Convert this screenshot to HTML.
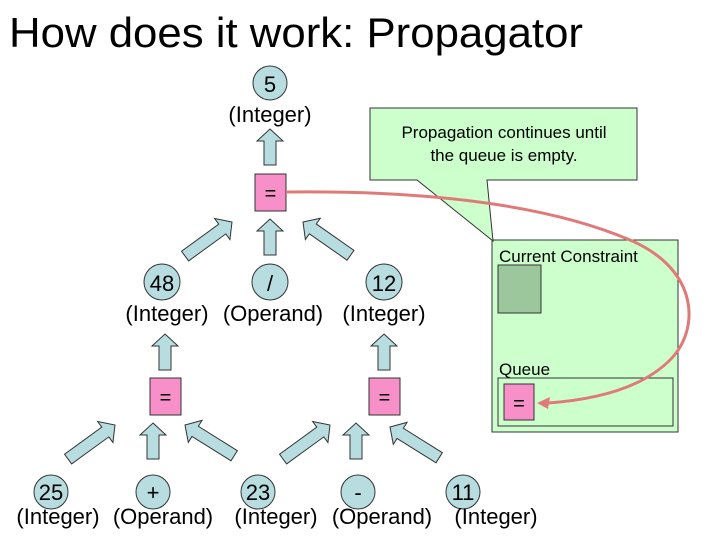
<!DOCTYPE html>
<html><head><meta charset="utf-8"><style>
html,body{margin:0;padding:0;background:#fff;}
svg{display:block;font-family:"Liberation Sans",Arial,sans-serif;}
</style></head><body>
<svg width="720" height="540" viewBox="0 0 720 540" xmlns="http://www.w3.org/2000/svg">
<defs>
<polygon id="ar" points="0,0 13,12 6,12 6,36 -6,36 -6,12 -13,12" fill="#b7dde0" stroke="#333" stroke-width="1"/>
<polygon id="ard" points="0,0 13,12 6,12 6,58 -6,58 -6,12 -13,12" fill="#b7dde0" stroke="#333" stroke-width="1"/>
</defs>
<text x="9" y="47" font-size="42" textLength="574" lengthAdjust="spacingAndGlyphs">How does it work: Propagator</text>

<!-- top node -->
<circle cx="270" cy="83" r="17" fill="#b7dde0" stroke="#333"/>
<text x="270" y="92" font-size="22" text-anchor="middle">5</text>
<text x="270" y="122" font-size="22" text-anchor="middle">(Integer)</text>
<use href="#ar" transform="translate(270,129)"/>
<rect x="255" y="174" width="31" height="37" fill="#f78fc8" stroke="#333"/>
<text x="270.5" y="200" font-size="20" text-anchor="middle">=</text>

<!-- level 1 arrows -->
<use href="#ard" transform="translate(232,222) rotate(54)"/>
<use href="#ar" transform="translate(270,219)"/>
<use href="#ard" transform="translate(303,222) rotate(-55)"/>

<!-- middle row -->
<circle cx="162" cy="282" r="18" fill="#b7dde0" stroke="#333"/>
<circle cx="270" cy="282" r="18" fill="#b7dde0" stroke="#333"/>
<circle cx="384" cy="282" r="18" fill="#b7dde0" stroke="#333"/>
<g font-size="22" text-anchor="middle">
<text x="162" y="291">48</text><text x="270" y="291">/</text><text x="384" y="291">12</text>
<text x="167" y="321">(Integer)</text><text x="273" y="321">(Operand)</text><text x="384" y="321">(Integer)</text>
</g>
<use href="#ar" transform="translate(165,334)"/>
<use href="#ar" transform="translate(384,334)"/>
<rect x="150" y="378" width="31" height="37" fill="#f78fc8" stroke="#333"/>
<text x="165.5" y="404" font-size="20" text-anchor="middle">=</text>
<rect x="369" y="378" width="31" height="37" fill="#f78fc8" stroke="#333"/>
<text x="384.5" y="404" font-size="20" text-anchor="middle">=</text>

<!-- bottom arrows -->
<use href="#ard" transform="translate(115,425) rotate(54)"/>
<use href="#ar" transform="translate(153,423)"/>
<use href="#ard" transform="translate(185,425) rotate(-58)"/>
<use href="#ard" transform="translate(330,425) rotate(54)"/>
<use href="#ar" transform="translate(356,423)"/>
<use href="#ard" transform="translate(390,427) rotate(-58)"/>

<!-- bottom row -->
<g fill="#b7dde0" stroke="#333">
<circle cx="51" cy="492" r="17"/><circle cx="153" cy="492" r="17"/><circle cx="258" cy="492" r="17"/><circle cx="358" cy="492" r="17"/><circle cx="463" cy="492" r="17"/>
</g>
<g font-size="22" text-anchor="middle">
<text x="51" y="500">25</text><text x="153" y="500">+</text><text x="258" y="500">23</text><text x="358" y="500">-</text><text x="463" y="500">11</text>
<text x="58" y="524">(Integer)</text><text x="163" y="524">(Operand)</text><text x="276" y="524">(Integer)</text><text x="382" y="524">(Operand)</text><text x="496" y="524">(Integer)</text>
</g>

<!-- green panel -->
<rect x="492" y="240" width="186" height="192" fill="#ccffcc" stroke="#333"/>
<text x="499" y="262" font-size="17">Current Constraint</text>
<rect x="498" y="265" width="43" height="48" fill="#9cc79c" stroke="#333"/>
<text x="499" y="375" font-size="17">Queue</text>
<rect x="498" y="378" width="175" height="48" fill="#ccffcc" stroke="#333"/>
<rect x="504" y="384" width="30" height="36" fill="#f78fc8" stroke="#333"/>
<text x="519" y="410" font-size="20" text-anchor="middle">=</text>

<!-- callout -->
<polygon points="370,108 637,108 637,180 487,180 493,241 417,180 370,180" fill="#ccffcc" stroke="#333"/>
<text x="504" y="138" font-size="17" text-anchor="middle">Propagation continues until</text>
<text x="504" y="161" font-size="17" text-anchor="middle">the queue is empty.</text>

<!-- red curve -->
<path d="M286,192 C450,190 560,210 630,240 C700,270 700,330 670,360 C640,390 590,400 548,403" fill="none" stroke="#e07a78" stroke-width="3"/>
<polygon points="537,403 550,397 548,409" fill="#e07a78"/>
</svg>
</body></html>
